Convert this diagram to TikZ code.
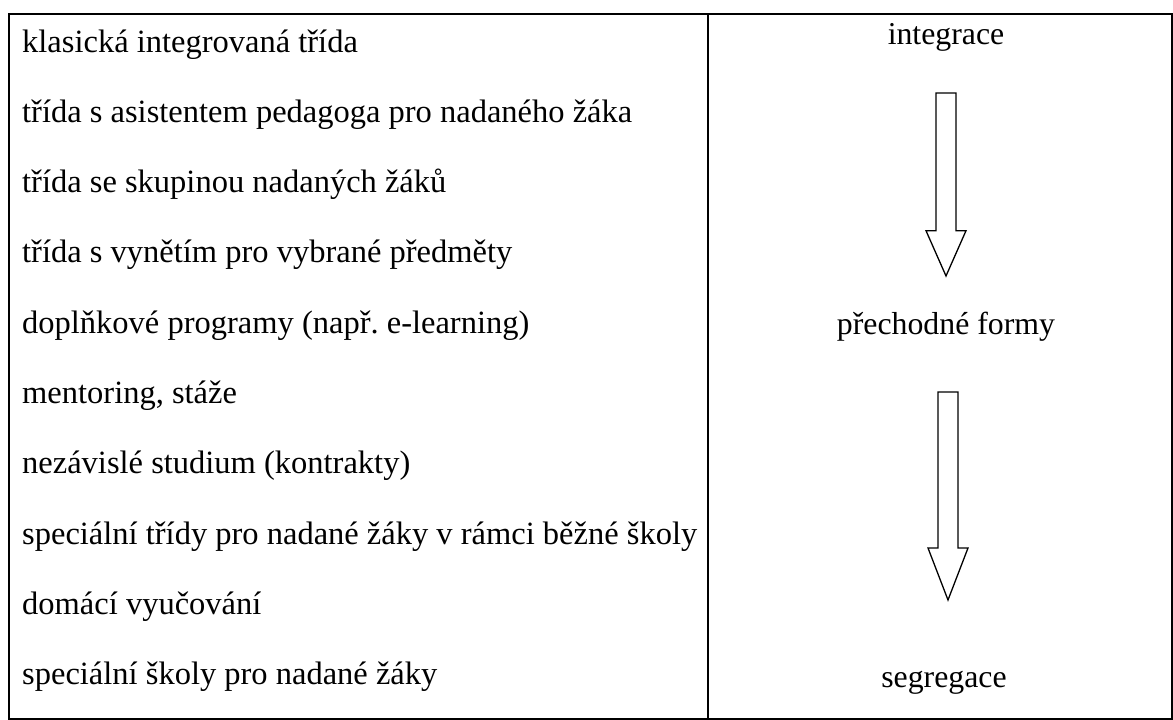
\documentclass[tikz,border=0pt]{standalone}
\usepackage{fontspec}
\setmainfont{Liberation Serif}
\frenchspacing
\begin{document}
\begin{tikzpicture}[x=1pt,y=-1pt,
  lefttxt/.style={font=\fontsize{32.5}{38}\selectfont, inner sep=0pt, anchor=base west},
  righttxt/.style={font=\fontsize{31.8}{38}\selectfont, inner sep=0pt, anchor=base},
  frameline/.style={line width=2pt},
  blockarrow/.style={draw, line width=1.3pt, line join=miter, fill=white}]
\useasboundingbox (0,0) rectangle (1173,720);
% frame
\coordinate (tl) at (8.5,14);
\coordinate (tr) at (1172,14);
\coordinate (bl) at (8.5,719);
\coordinate (br) at (1172,719);
\coordinate (dt) at (707.5,14);
\coordinate (db) at (707.5,719);
\draw[frameline] (tl) -- (tr) -- (br) -- (bl) -- cycle;
\draw[frameline] (dt) -- (db);
% left column
\node[lefttxt] (l1) at (22,52) {klasická integrovaná třída};
\node[lefttxt] (l2) at (22,122.3) {třída s asistentem pedagoga pro nadaného žáka};
\node[lefttxt] (l3) at (22,192.6) {třída se skupinou nadaných žáků};
\node[lefttxt] (l4) at (22,262.9) {třída s vynětím pro vybrané předměty};
\node[lefttxt] (l5) at (22,333.2) {doplňkové programy (např. e-learning)};
\node[lefttxt] (l6) at (22,403.5) {mentoring, stáže};
\node[lefttxt] (l7) at (22,473.8) {nezávislé studium (kontrakty)};
\node[lefttxt] (l8) at (22,544.1) {speciální třídy pro nadané žáky v rámci běžné školy};
\node[lefttxt] (l9) at (22,614.4) {domácí vyučování};
\node[lefttxt] (l10) at (22,684.7) {speciální školy pro nadané žáky};
% right column
\node[righttxt] (ri) at (946,44) {integrace};
\node[righttxt] (rp) at (946,334) {přechodné formy};
\node[righttxt] (rs) at (944,687) {segregace};
% arrows
\draw[blockarrow] (936,93) -- (956,93) -- (956,230.7) -- (966,230.7) -- (946,276) -- (926,230.7) -- (936,230.7) -- cycle;
\draw[blockarrow] (938,392) -- (958,392) -- (958,548) -- (968,548) -- (948,600) -- (928,548) -- (938,548) -- cycle;
\end{tikzpicture}
\end{document}
